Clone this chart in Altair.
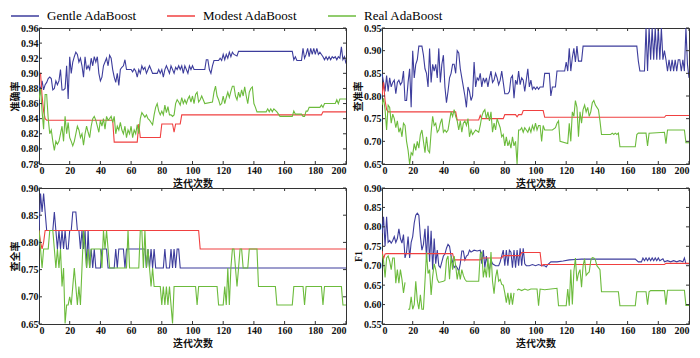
import altair as alt
import pandas as pd

SERIES = ["Gentle AdaBoost", "Modest AdaBoost", "Real AdaBoost"]
COLORS = ["#3d3d9c", "#f04040", "#6cbb3c"]
X_TICKS = list(range(0, 201, 20))

ACC_TICKS = [0.78, 0.80, 0.82, 0.84, 0.86, 0.88, 0.90, 0.92, 0.94, 0.96]
PREC_TICKS = [0.65, 0.70, 0.75, 0.80, 0.85, 0.90, 0.95]
REC_TICKS = [0.65, 0.70, 0.75, 0.80, 0.85, 0.90]
F1_TICKS = [0.55, 0.60, 0.65, 0.70, 0.75, 0.80, 0.85, 0.90]

# ---------------- 准确率 ----------------
ACC_GENTLE = [(0,.885),(1,.878),(2,.89),(3,.878),(4,.885),(5,.888),(6,.893),(7,.895),(8,.893),(9,.878),(10,.88),(11,.89),(12,.885),(13,.89),(14,.905),(15,.878),(16,.878),(17,.88),(18,.91),(19,.866),(20,.922),(21,.90),(22,.915),(23,.922),(24,.928),(25,.925),(26,.915),(27,.92),(28,.91),(29,.895),(30,.922),(31,.905),(32,.91),(33,.905),(34,.92),(35,.91),(36,.922),(37,.915),(38,.922),(39,.90),(40,.89),(41,.895),(42,.91),(43,.915),(44,.92),(45,.91),(46,.924),(47,.92),(48,.905),(49,.895),(50,.888),(51,.90),(52,.884),(53,.905),(54,.908),(55,.91),(56,.918),(57,.905),(60,.905),(61,.902),(62,.906),(63,.903),(64,.895),(65,.905),(66,.90),(67,.91),(68,.905),(69,.908),(70,.90),(71,.905),(72,.91),(73,.905),(74,.90),(77,.90),(78,.905),(79,.90),(80,.905),(81,.895),(82,.905),(83,.91),(84,.905),(85,.90),(86,.91),(87,.905),(88,.90),(89,.908),(90,.905),(91,.91),(92,.905),(93,.91),(94,.90),(95,.91),(96,.905),(97,.90),(98,.91),(99,.905),(100,.91),(101,.905),(108,.905),(109,.918),(110,.918),(111,.905),(112,.90),(113,.91),(114,.917),(117,.917),(118,.92),(119,.917),(120,.925),(121,.918),(122,.925),(123,.92),(124,.928),(125,.922),(126,.928),(127,.925),(129,.923),(130,.929),(165,.929),(166,.918),(167,.922),(168,.917),(171,.917),(172,.933),(173,.92),(174,.925),(175,.933),(176,.922),(177,.933),(178,.925),(179,.933),(180,.925),(181,.933),(182,.925),(183,.928),(184,.925),(185,.922),(186,.918),(187,.922),(188,.918),(189,.922),(190,.918),(191,.922),(192,.92),(193,.922),(194,.918),(195,.922),(196,.92),(197,.935),(198,.918),(199,.922),(200,.913)]
ACC_MODEST = [(0,.90),(1,.90),(2,.87),(3,.85),(4,.84),(5,.838),(48,.838),(49,.809),(64,.809),(65,.833),(66,.815),(79,.815),(80,.833),(87,.833),(88,.822),(89,.833),(92,.833),(93,.845),(184,.845),(185,.849),(200,.849)]
ACC_REAL = [(0,.865),(1,.88),(2,.85),(3,.826),(4,.872),(5,.872),(6,.84),(7,.82),(8,.825),(9,.81),(10,.798),(11,.81),(12,.806),(13,.81),(14,.82),(15,.83),(16,.81),(17,.843),(18,.82),(19,.835),(20,.815),(21,.81),(22,.804),(23,.81),(24,.82),(25,.83),(26,.825),(27,.815),(28,.82),(29,.805),(30,.82),(31,.83),(32,.822),(33,.815),(34,.83),(35,.84),(36,.843),(37,.838),(38,.83),(39,.822),(40,.838),(41,.83),(42,.84),(43,.826),(44,.843),(45,.838),(46,.84),(47,.843),(48,.835),(49,.843),(50,.82),(51,.83),(52,.825),(53,.835),(54,.825),(55,.82),(56,.83),(57,.815),(58,.825),(59,.82),(60,.83),(61,.815),(62,.825),(63,.82),(64,.832),(65,.82),(66,.84),(67,.848),(68,.845),(69,.842),(70,.845),(71,.84),(72,.838),(73,.835),(74,.832),(75,.845),(76,.855),(77,.86),(78,.85),(79,.845),(80,.85),(81,.845),(82,.858),(83,.848),(84,.856),(85,.845),(86,.845),(87,.843),(88,.845),(89,.86),(90,.865),(91,.862),(92,.858),(93,.868),(94,.86),(95,.865),(96,.86),(97,.866),(98,.87),(99,.862),(100,.87),(101,.86),(102,.872),(103,.875),(104,.862),(105,.865),(106,.87),(107,.865),(108,.86),(113,.862),(114,.875),(115,.883),(116,.87),(117,.865),(118,.858),(119,.86),(120,.87),(121,.86),(122,.868),(123,.875),(124,.868),(125,.876),(126,.883),(127,.883),(128,.87),(129,.865),(130,.875),(131,.868),(132,.878),(133,.87),(134,.882),(135,.87),(136,.86),(137,.875),(138,.88),(139,.882),(140,.86),(141,.855),(142,.849),(148,.849),(149,.853),(150,.849),(151,.853),(152,.849),(153,.853),(155,.849),(156,.846),(157,.843),(165,.843),(166,.85),(167,.846),(171,.846),(172,.843),(173,.843),(174,.85),(175,.85),(176,.855),(183,.855),(184,.858),(185,.855),(186,.86),(193,.86),(194,.865),(195,.86),(196,.866),(200,.866)]

# ---------------- 查准率 ----------------
PREC_GENTLE = [(0,.85),(1,.83),(2,.81),(3,.845),(4,.81),(5,.84),(6,.82),(7,.83),(8,.835),(9,.805),(10,.83),(11,.835),(12,.825),(13,.83),(14,.855),(15,.79),(16,.79),(17,.83),(18,.86),(19,.775),(20,.90),(21,.84),(22,.87),(23,.88),(24,.91),(25,.91),(26,.91),(27,.89),(28,.86),(29,.85),(30,.82),(31,.905),(32,.83),(33,.87),(34,.855),(35,.87),(36,.84),(37,.905),(38,.83),(39,.87),(40,.89),(41,.82),(42,.785),(43,.81),(44,.84),(45,.85),(46,.87),(47,.87),(48,.85),(49,.90),(50,.895),(51,.86),(52,.84),(53,.82),(54,.80),(55,.775),(56,.82),(57,.81),(58,.79),(59,.80),(60,.875),(61,.82),(62,.84),(63,.835),(64,.85),(65,.82),(66,.84),(67,.83),(68,.84),(69,.82),(70,.84),(71,.855),(72,.83),(73,.835),(74,.85),(75,.84),(76,.825),(77,.835),(78,.855),(79,.83),(80,.805),(82,.805),(83,.81),(84,.84),(85,.845),(86,.795),(87,.835),(88,.825),(89,.855),(90,.825),(91,.84),(92,.835),(93,.81),(94,.835),(95,.86),(96,.82),(97,.835),(98,.815),(99,.82),(100,.815),(101,.82),(102,.815),(103,.82),(105,.82),(106,.85),(109,.85),(110,.80),(111,.82),(113,.82),(114,.855),(119,.855),(120,.875),(121,.855),(122,.905),(123,.855),(124,.885),(125,.905),(126,.875),(127,.91),(128,.877),(130,.877),(131,.91),(166,.91),(167,.877),(168,.855),(171,.855),(172,.95),(173,.855),(174,.95),(175,.88),(176,.95),(177,.88),(178,.95),(179,.88),(180,.95),(181,.88),(182,.95),(183,.88),(184,.90),(185,.88),(186,.855),(187,.88),(188,.855),(189,.88),(190,.855),(191,.88),(192,.855),(193,.88),(194,.88),(195,.855),(196,.88),(197,.855),(198,.95),(199,.87),(200,.84)]
PREC_MODEST = [(0,.80),(1,.83),(2,.79),(3,.77),(4,.765),(48,.765),(49,.747),(63,.747),(64,.757),(65,.75),(79,.75),(80,.759),(87,.759),(88,.754),(89,.759),(91,.759),(92,.768),(105,.768),(106,.753),(184,.753),(185,.757),(200,.757)]
PREC_REAL = [(0,.78),(1,.795),(2,.77),(3,.725),(4,.78),(5,.775),(6,.74),(7,.76),(8,.75),(9,.73),(10,.745),(11,.72),(12,.73),(13,.71),(14,.74),(15,.735),(16,.70),(17,.68),(18,.65),(19,.675),(20,.67),(21,.695),(22,.68),(23,.70),(24,.685),(25,.715),(26,.725),(27,.70),(28,.675),(29,.71),(30,.68),(31,.675),(32,.72),(33,.755),(34,.735),(35,.74),(36,.72),(37,.725),(38,.74),(39,.75),(40,.72),(41,.725),(42,.72),(43,.725),(44,.745),(45,.765),(46,.755),(47,.77),(48,.755),(49,.745),(50,.725),(51,.745),(52,.72),(53,.74),(54,.745),(55,.735),(56,.75),(57,.71),(58,.725),(59,.715),(60,.72),(61,.725),(63,.72),(64,.735),(65,.755),(66,.765),(67,.77),(68,.75),(69,.765),(70,.745),(71,.765),(72,.72),(73,.74),(74,.725),(75,.75),(76,.74),(77,.73),(78,.71),(79,.715),(80,.69),(81,.71),(82,.69),(83,.70),(84,.685),(85,.71),(86,.69),(87,.70),(88,.65),(89,.725),(90,.725),(91,.73),(92,.72),(93,.73),(94,.725),(95,.72),(96,.73),(97,.72),(98,.735),(99,.725),(100,.74),(101,.725),(102,.735),(103,.735),(104,.70),(105,.735),(106,.725),(111,.725),(113,.73),(114,.74),(115,.745),(116,.70),(121,.695),(122,.74),(123,.70),(124,.765),(125,.755),(126,.79),(127,.775),(128,.71),(129,.765),(130,.74),(131,.77),(132,.78),(133,.765),(134,.775),(135,.755),(136,.765),(137,.785),(138,.79),(139,.78),(140,.775),(141,.77),(142,.745),(143,.715),(149,.715),(150,.718),(151,.715),(152,.718),(153,.715),(154,.718),(155,.688),(165,.688),(166,.715),(167,.718),(172,.718),(173,.69),(174,.718),(184,.72),(185,.695),(186,.725),(197,.725),(198,.697),(200,.697)]

# ---------------- 查全率 ----------------
REC_GENTLE = [(0,.822),(1,.890),(2,.856),(3,.890),(4,.856),(5,.822),(9,.822),(10,.856),(11,.822),(12,.788),(13,.822),(14,.788),(15,.822),(16,.788),(17,.822),(18,.788),(19,.788),(20,.822),(21,.822),(22,.856),(24,.856),(25,.822),(26,.822),(27,.788),(28,.822),(29,.788),(30,.822),(31,.753),(32,.822),(33,.753),(34,.788),(35,.753),(36,.788),(37,.753),(40,.753),(41,.788),(44,.788),(45,.753),(49,.753),(50,.788),(51,.753),(52,.788),(55,.788),(56,.753),(57,.788),(69,.788),(70,.753),(71,.788),(72,.753),(73,.788),(74,.753),(75,.788),(76,.753),(81,.753),(82,.788),(83,.753),(85,.753),(86,.788),(87,.753),(88,.788),(89,.753),(90,.788),(91,.788),(92,.753),(200,.753)]
REC_MODEST = [(0,.822),(1,.80),(2,.788),(3,.80),(4,.822),(104,.822),(105,.788),(200,.788)]
REC_REAL = [(0,.822),(1,.788),(2,.753),(3,.788),(6,.788),(7,.822),(9,.822),(10,.788),(11,.753),(12,.788),(13,.753),(14,.788),(15,.719),(16,.753),(17,.651),(18,.685),(19,.685),(20,.70),(21,.685),(22,.719),(23,.753),(24,.719),(25,.685),(26,.719),(27,.685),(28,.753),(29,.822),(30,.788),(31,.753),(32,.788),(33,.753),(34,.788),(40,.788),(41,.753),(42,.822),(43,.788),(44,.822),(45,.788),(46,.753),(57,.753),(58,.822),(59,.753),(65,.753),(66,.822),(67,.822),(68,.753),(69,.822),(70,.753),(71,.788),(72,.753),(73,.719),(74,.753),(75,.719),(79,.719),(80,.685),(81,.719),(82,.685),(83,.719),(84,.685),(85,.719),(86,.685),(87,.651),(88,.719),(102,.719),(103,.685),(104,.719),(116,.719),(117,.685),(120,.685),(121,.719),(122,.685),(123,.753),(124,.685),(125,.753),(126,.788),(127,.788),(128,.753),(129,.719),(130,.753),(131,.788),(132,.788),(133,.753),(136,.753),(137,.788),(142,.788),(143,.719),(154,.719),(155,.685),(165,.685),(166,.719),(172,.719),(173,.685),(174,.719),(184,.719),(185,.685),(186,.719),(197,.719),(198,.685),(200,.685)]

# ---------------- F1 ----------------
F1_GENTLE = [(0,.783),(1,.826),(2,.75),(3,.826),(4,.76),(5,.765),(6,.758),(7,.765),(8,.775),(9,.76),(10,.77),(11,.795),(12,.77),(13,.758),(14,.78),(15,.72),(16,.735),(17,.775),(18,.72),(19,.76),(20,.775),(21,.81),(22,.83),(23,.835),(24,.83),(25,.775),(26,.74),(27,.755),(28,.795),(29,.72),(30,.803),(31,.71),(32,.79),(33,.69),(34,.77),(35,.705),(36,.74),(37,.70),(38,.695),(39,.71),(40,.725),(41,.73),(42,.745),(43,.755),(44,.75),(45,.725),(46,.71),(47,.695),(48,.70),(49,.695),(50,.685),(51,.705),(52,.738),(53,.738),(54,.715),(55,.725),(56,.728),(57,.74),(58,.735),(60,.74),(62,.738),(64,.74),(65,.705),(66,.74),(67,.695),(68,.725),(69,.70),(70,.69),(71,.715),(72,.705),(74,.70),(76,.70),(77,.71),(78,.725),(79,.74),(80,.70),(81,.74),(82,.70),(83,.74),(84,.735),(85,.695),(86,.74),(87,.695),(88,.74),(89,.70),(90,.745),(91,.70),(92,.745),(93,.705),(94,.70),(96,.70),(98,.703),(100,.70),(102,.703),(104,.70),(106,.70),(107,.697),(108,.703),(110,.71),(114,.71),(118,.712),(122,.715),(126,.716),(130,.717),(165,.717),(167,.71),(169,.71),(170,.72),(171,.713),(172,.72),(173,.713),(174,.72),(175,.713),(176,.72),(177,.713),(178,.72),(179,.713),(180,.72),(181,.713),(183,.718),(184,.71),(186,.713),(188,.71),(190,.713),(192,.71),(194,.713),(196,.71),(197,.72),(198,.705),(200,.705)]
F1_MODEST = [(0,.738),(1,.718),(2,.73),(3,.731),(46,.731),(47,.715),(64,.715),(65,.72),(78,.72),(79,.726),(90,.726),(91,.734),(103,.734),(104,.70),(105,.703),(184,.703),(185,.706),(200,.706)]
F1_REAL = [(0,.73),(1,.713),(2,.67),(3,.72),(4,.725),(5,.712),(6,.69),(7,.72),(8,.72),(9,.655),(10,.69),(11,.655),(12,.69),(13,.665),(14,.63),(15,.657),
           None,
           (17,.588),(18,.588),(19,.62),(20,.588),(21,.60),(22,.66),(23,.61),(24,.588),(25,.625),(26,.588),(27,.588),(28,.66),(29,.734),(30,.68),(31,.69),(32,.625),(33,.672),(34,.705),(35,.69),(36,.665),(37,.657),(40,.66),(41,.662),(42,.715),(43,.725),(44,.665),(45,.725),(46,.69),(47,.725),(48,.70),(49,.665),(50,.69),(51,.665),(52,.69),(53,.675),(54,.665),(55,.66),(63,.66),(64,.73),(65,.735),(66,.67),(67,.695),(68,.67),(69,.72),(70,.67),(71,.735),(72,.66),(73,.628),(74,.67),(75,.69),(76,.66),(77,.665),(78,.652),(79,.65),(80,.63),(81,.605),(82,.63),(83,.60),(84,.63),(85,.60),(86,.63),
           None,
           (88,.637),(89,.64),(91,.636),(93,.64),(95,.637),(97,.64),(101,.64),(102,.597),(103,.64),(106,.638),(110,.64),(114,.642),(115,.597),(120,.597),(121,.64),(122,.597),(123,.69),(124,.60),(125,.685),(126,.72),(127,.66),(128,.68),(129,.69),(130,.645),(131,.70),(132,.718),(133,.675),(134,.68),(135,.684),(136,.713),(137,.721),(138,.72),(139,.715),(140,.70),(142,.69),(143,.633),(154,.633),(155,.597),(165,.597),(166,.633),(172,.633),(173,.60),(174,.633),(175,.636),(184,.636),(185,.60),(186,.637),(197,.637),(198,.598),(200,.598)]

W, H = 307, 136
FRAME = "#333333"
SERIF = "Liberation Serif"
CJK = "Noto Sans CJK SC"


def rows(series, pts):
    seg, out = 0, []
    for p in pts:
        if p is None:
            seg += 1
            continue
        out.append({"series": series, "seg": f"{series}-{seg}", "x": p[0], "y": p[1]})
    return out


# A long horizontal stroke drawn in a compact (14px) legend symbol box.
LEGEND = alt.Legend(
    orient="none", legendX=-22, legendY=-20, direction="horizontal", title=None,
    symbolType="M-2,0H2", symbolSize=196, symbolStrokeWidth=1.5, labelFont=SERIF,
    labelFontSize=13, labelOffset=14, columnPadding=27, padding=0, labelLimit=0,
)


def panel(series_pts, ytitle, dom, yticks, ytitle_font=CJK):
    data = []
    for name, pts in zip(SERIES, series_pts):
        data += rows(name, pts)
    df = pd.DataFrame(data)
    X = alt.X("x:Q", scale=alt.Scale(domain=[0, 200], nice=False),
              axis=alt.Axis(values=X_TICKS, title="迭代次数"))
    Y = alt.Y("y:Q", scale=alt.Scale(domain=dom, nice=False, zero=False),
              axis=alt.Axis(values=yticks, format=".2f", title=ytitle, titleFont=ytitle_font))
    lines = alt.Chart(df).mark_line(strokeWidth=1.1, clip=True).encode(
        x=X, y=Y,
        color=alt.Color("series:N", scale=alt.Scale(domain=SERIES, range=COLORS), legend=LEGEND),
        detail="seg:N",
    )
    xt = alt.Chart(pd.DataFrame({"x": X_TICKS}))
    yt = alt.Chart(pd.DataFrame({"y": yticks}))
    tb = xt.mark_rule(color=FRAME, strokeWidth=1).encode(x=X, y=alt.value(H), y2=alt.value(H - 3))
    tt = xt.mark_rule(color=FRAME, strokeWidth=1).encode(x=X, y=alt.value(0), y2=alt.value(3))
    tl = yt.mark_rule(color=FRAME, strokeWidth=1).encode(y=Y, x=alt.value(0), x2=alt.value(3))
    tr = yt.mark_rule(color=FRAME, strokeWidth=1).encode(y=Y, x=alt.value(W - 3), x2=alt.value(W))
    return alt.layer(lines, tb, tt, tl, tr).properties(width=W, height=H)


p1 = panel([ACC_GENTLE, ACC_MODEST, ACC_REAL], "准确率", [0.78, 0.96], ACC_TICKS)
p2 = panel([PREC_GENTLE, PREC_MODEST, PREC_REAL], "查准率", [0.65, 0.95], PREC_TICKS)
p3 = panel([REC_GENTLE, REC_MODEST, REC_REAL], "查全率", [0.65, 0.90], REC_TICKS)
p4 = panel([F1_GENTLE, F1_MODEST, F1_REAL], "F1", [0.55, 0.90], F1_TICKS, ytitle_font=SERIF)

chart = alt.concat(
    p1, p2, p3, p4, columns=2, spacing={"row": 24, "column": 36}, bounds="flush",
).properties(padding={"left": 2, "top": 0, "right": 0, "bottom": 0}).configure_view(
    stroke=FRAME, strokeWidth=1
).configure_axis(
    domain=False, grid=False, tickSize=0,
    labelFont=SERIF, labelFontSize=10, labelFontWeight="bold", labelColor="#111",
    labelPadding=1, titleFont=CJK, titleFontSize=10, titleFontWeight="bold",
    titleColor="#111", titlePadding=0,
).configure_axisX(labelPadding=1, titlePadding=3)

chart.save("out.html", embed_options={"renderer": "svg", "actions": False})
